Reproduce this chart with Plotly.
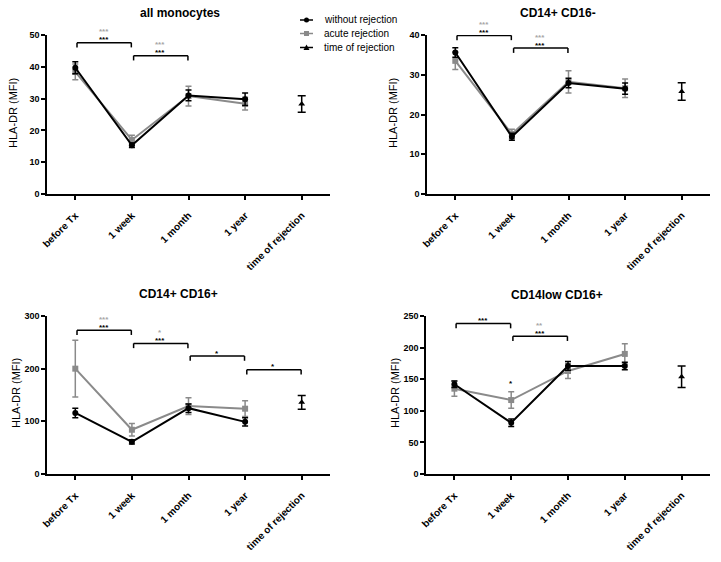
import plotly.graph_objects as go

# ---------------- data ----------------
categories = ["before Tx", "1 week", "1 month", "1 year", "time of rejection"]
panel_titles = ["all monocytes", "CD14+ CD16-", "CD14+ CD16+", "CD14low CD16+"]
series_names = ["without rejection", "acute rejection", "time of rejection"]
y_max = [50, 40, 300, 250]
y_dtick = [10, 10, 100, 50]

without_mean = [
    [39.7, 15.3, 31.0, 29.8],
    [35.6, 14.4, 27.9, 26.5],
    [116, 61, 125, 99],
    [142, 81, 171, 171],
]
without_sem = [
    [1.9, 0.7, 1.7, 2.0],
    [1.2, 0.9, 1.2, 1.4],
    [9, 4, 8, 8],
    [5, 6, 7, 6],
]
acute_mean = [
    [38.4, 17.0, 30.8, 28.4],
    [33.5, 15.1, 28.2, 26.6],
    [200, 84, 129, 124],
    [135, 117, 163, 190],
]
acute_sem = [
    [2.5, 1.5, 3.1, 2.0],
    [2.2, 1.2, 2.8, 2.3],
    [54, 12, 16, 15],
    [12, 13, 12, 16],
]
rejection_mean = [28.3, 25.8, 136, 154]
rejection_sem = [2.6, 2.2, 13, 17]

# significance brackets: (from category index, to category index, height, black label, gray label)
brackets = [
    [(0, 1, 47.6, "***", "***"), (1, 2, 43.5, "***", "***")],
    [(0, 1, 39.9, "***", "***"), (1, 2, 36.7, "***", "***")],
    [(0, 1, 273, "***", "***"), (1, 2, 248, "***", "*"), (2, 3, 224, "*", ""), (3, 4, 198, "*", "")],
    [(0, 1, 238, "***", ""), (1, 2, 218, "***", "**")],
]
# single-point labels: (panel, category index, y, label)
point_labels = [(3, 1, 143, "*")]

# ---------------- styling / layout ----------------
W, H = 721, 562
BLACK = "#000000"
GRAY = "#8a8a8a"
GRAY_TXT = "#a6a6a6"
FONT = "Liberation Sans, Arial, sans-serif"

# pixel boxes of the four plot areas: (left, right, top, bottom)
boxes = [(47, 330, 35, 194), (427, 710, 35, 194), (47, 330, 316, 474), (426, 710, 316, 474)]
title_pos = [(180, 13), (558, 13), (178, 294), (557, 295)]
ylabel_pos = [(13, 113), (393, 113), (16, 393), (395, 393)]

fig = go.Figure()
layout = dict(
    width=W, height=H, margin=dict(l=0, r=0, t=0, b=0, autoexpand=False),
    paper_bgcolor="white", plot_bgcolor="white",
    font=dict(family=FONT, color="black"),
    showlegend=False,
)
shapes, annotations = [], []

xs = list(range(len(categories)))
for p in range(4):
    l, r, t, b = boxes[p]
    sfx = "" if p == 0 else str(p + 1)
    xa, ya = "x" + sfx, "y" + sfx
    common_ax = dict(showline=True, linecolor="black", linewidth=1.5, ticks="outside",
                     ticklen=4, tickwidth=1.5, tickcolor="black", showgrid=False, zeroline=False)
    layout["xaxis" + sfx] = dict(common_ax, domain=[l / W, r / W], anchor=ya,
                                 range=[-0.5, 4.5], tickvals=xs, ticktext=categories,
                                 tickangle=-45, ticklabelstandoff=6,
                                 tickfont=dict(size=10, family=FONT, color="black", weight="bold"))
    layout["yaxis" + sfx] = dict(common_ax, domain=[1 - b / H, 1 - t / H], anchor=xa,
                                 range=[0, y_max[p]], dtick=y_dtick[p],
                                 tickfont=dict(size=9, family=FONT, color="black", weight="bold"))

    fig.add_trace(go.Scatter(
        x=xs[:4], y=acute_mean[p], xaxis=xa, yaxis=ya, mode="lines+markers",
        name=series_names[1],
        line=dict(color=GRAY, width=2), marker=dict(symbol="square", size=6, color=GRAY),
        error_y=dict(type="data", array=acute_sem[p], color=GRAY, thickness=1.5, width=3),
        cliponaxis=False))
    fig.add_trace(go.Scatter(
        x=xs[:4], y=without_mean[p], xaxis=xa, yaxis=ya, mode="lines+markers",
        name=series_names[0],
        line=dict(color=BLACK, width=2), marker=dict(symbol="circle", size=6, color=BLACK),
        error_y=dict(type="data", array=without_sem[p], color=BLACK, thickness=1.5, width=3),
        cliponaxis=False))
    fig.add_trace(go.Scatter(
        x=[xs[4]], y=[rejection_mean[p]], xaxis=xa, yaxis=ya, mode="markers",
        name=series_names[2],
        marker=dict(symbol="triangle-up", size=6, color=BLACK),
        error_y=dict(type="data", array=[rejection_sem[p]], color=BLACK, thickness=1.5, width=4),
        cliponaxis=False))

    # significance brackets
    for (c0, c1, yb, lab_k, lab_g) in brackets[p]:
        x0, x1 = c0 + 0.03, c1 - 0.01
        shapes.append(dict(type="line", xref=xa, yref=ya, x0=x0, x1=x1, y0=yb, y1=yb,
                           line=dict(color="black", width=1.5)))
        for xe in (x0, x1):
            shapes.append(dict(type="line", xref=xa, yref=ya, x0=xe, x1=xe, y0=yb,
                               y1=yb - y_max[p] * 0.03, line=dict(color="black", width=1.5)))
        xm = (c0 + c1) / 2
        if lab_k:
            annotations.append(dict(x=xm, y=yb, xref=xa, yref=ya, text=lab_k, showarrow=False,
                                    yanchor="middle", yshift=3,
                                    font=dict(size=8, color="black", family=FONT, weight="bold")))
        if lab_g:
            annotations.append(dict(x=xm, y=yb, xref=xa, yref=ya, text=lab_g, showarrow=False,
                                    yanchor="middle", yshift=11,
                                    font=dict(size=8, color=GRAY_TXT, family=FONT, weight="bold")))
    for (pp, ci, yv, lab) in point_labels:
        if pp == p:
            annotations.append(dict(x=ci, y=yv, xref=xa, yref=ya, text=lab, showarrow=False,
                                    yanchor="middle",
                                    font=dict(size=8, color="black", family=FONT, weight="bold")))

    tx, ty = title_pos[p]
    annotations.append(dict(x=tx / W, y=1 - ty / H, xref="paper", yref="paper",
                            text=panel_titles[p], showarrow=False, xanchor="center",
                            yanchor="middle",
                            font=dict(size=12, family=FONT, color="black", weight="bold")))
    lx, ly = ylabel_pos[p]
    annotations.append(dict(x=lx / W, y=1 - ly / H, xref="paper", yref="paper",
                            text="HLA-DR (MFI)", showarrow=False, textangle=-90,
                            xanchor="center", yanchor="middle",
                            font=dict(size=11, family=FONT, color="black")))

# ---------------- compact legend (GraphPad style) ----------------
leg_x0, leg_x1, leg_txt = 300, 313, 322
leg_rows = [20, 33.5, 47.5]
leg_colors = [BLACK, GRAY, BLACK]
leg_symbols = ["circle", "square", "triangle"]
for name, yrow, col, sym in zip(series_names, leg_rows, leg_colors, leg_symbols):
    yp = 1 - yrow / H
    shapes.append(dict(type="line", xref="paper", yref="paper", x0=leg_x0 / W, x1=leg_x1 / W,
                       y0=yp, y1=yp, line=dict(color=col, width=1.5)))
    cx = (leg_x0 + leg_x1) / 2
    if sym == "circle":
        shapes.append(dict(type="circle", xref="paper", yref="paper",
                           x0=(cx - 2.5) / W, x1=(cx + 2.5) / W,
                           y0=1 - (yrow + 2.5) / H, y1=1 - (yrow - 2.5) / H,
                           fillcolor=col, line=dict(width=0)))
    elif sym == "square":
        shapes.append(dict(type="rect", xref="paper", yref="paper",
                           x0=(cx - 2.5) / W, x1=(cx + 2.5) / W,
                           y0=1 - (yrow + 2.5) / H, y1=1 - (yrow - 2.5) / H,
                           fillcolor=col, line=dict(width=0)))
    else:
        path = "M {:.5f} {:.5f} L {:.5f} {:.5f} L {:.5f} {:.5f} Z".format(
            (cx - 3) / W, 1 - (yrow + 2.5) / H, (cx + 3) / W, 1 - (yrow + 2.5) / H,
            cx / W, 1 - (yrow - 3) / H)
        shapes.append(dict(type="path", xref="paper", yref="paper", path=path,
                           fillcolor=col, line=dict(width=0)))
    annotations.append(dict(x=leg_txt / W, y=yp, xref="paper", yref="paper", text=name,
                            showarrow=False, xanchor="left", yanchor="middle",
                            font=dict(size=10, family=FONT, color="black")))

layout["shapes"] = shapes
layout["annotations"] = annotations
fig.update_layout(**layout)
fig.write_html("out.html", config={"displayModeBar": False},
               post_script="document.body.style.margin='0';document.body.style.overflow='hidden';")
